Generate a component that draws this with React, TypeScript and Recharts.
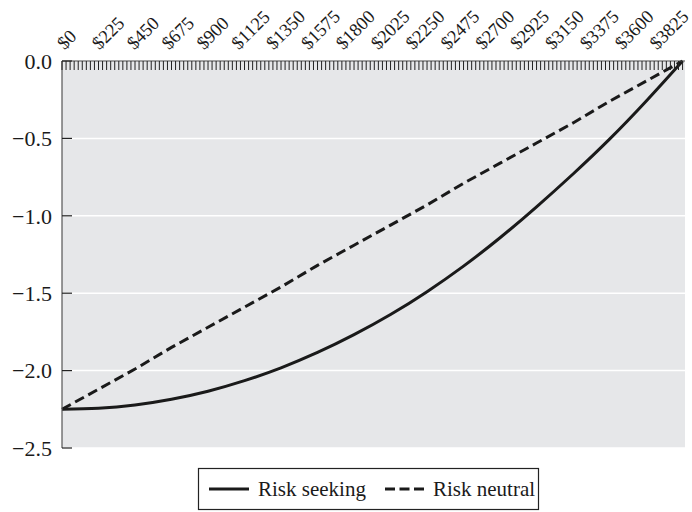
import React from "react";
import { LineChart, Line, XAxis, YAxis, CartesianGrid } from "recharts";

const amounts = [0, 225, 450, 675, 900, 1125, 1350, 1575, 1800, 2025, 2250, 2475, 2700, 2925, 3150, 3375, 3600, 3825];
const riskSeeking = [-2.25, -2.243, -2.222, -2.185, -2.133, -2.065, -1.982, -1.883, -1.768, -1.638, -1.49, -1.325, -1.142, -0.942, -0.73, -0.505, -0.26, 0];
const riskNeutral = [-2.25, -2.12, -1.99, -1.85, -1.72, -1.59, -1.46, -1.32, -1.19, -1.06, -0.93, -0.79, -0.66, -0.53, -0.4, -0.26, -0.13, 0];
const yTicks = [0, -0.5, -1, -1.5, -2, -2.5];
const labelTicks = amounts;
const minorStep = 25;

const minorTicks: number[] = [];
for (let v = 0; v <= 3825; v += minorStep) minorTicks.push(v);

const data = amounts.map((a, i) => ({ x: a, seeking: riskSeeking[i], neutral: riskNeutral[i] }));

const FONT = '"Liberation Serif", "Times New Roman", serif';

const XTick = (props: any) => {
  const { x, y, payload } = props;
  const v = payload.value as number;
  const labeled = labelTicks.includes(v);
  const k = v / 225;
  const sx = x + 2.5 - 1.65 * k;
  const sy = y - 10.5;
  return (
    <g>
      <line x1={x} y1={y} x2={x} y2={y + 9} stroke="#222" strokeWidth={1} />
      {labeled && (
        <text
          x={sx}
          y={sy}
          transform={`rotate(-45 ${sx} ${sy})`}
          textAnchor="start"
          fontFamily={FONT}
          fontSize={18.5}
          fill="#1a1a1a"
        >
          {"$" + v}
        </text>
      )}
    </g>
  );
};

const YTick = (props: any) => {
  const { x, y, payload } = props;
  const v = payload.value as number;
  const label = v === 0 ? "0.0" : "\u2212" + Math.abs(v).toFixed(1);
  return (
    <g>
      <line x1={x} y1={y} x2={x + 10} y2={y} stroke="#222" strokeWidth={1.2} />
      <text x={x - 10} y={y} dy="0.35em" textAnchor="end" fontFamily={FONT} fontSize={22} fill="#1a1a1a">
        {label}
      </text>
    </g>
  );
};

export default function App() {
  return (
    <div style={{ position: "absolute", left: 0, top: 0, width: 692, height: 512, background: "#fff" }}>
      <LineChart width={692} height={512} data={data} margin={{ top: 41, right: 7, bottom: 64, left: 2 }}>
        <CartesianGrid vertical={false} horizontal={true} fill="#e6e7e9" stroke="#ffffff" strokeWidth={1.5} />
        <XAxis
          dataKey="x"
          type="number"
          orientation="top"
          domain={[0, 3840]}
          ticks={minorTicks}
          interval={0}
          height={20}
          tickSize={0}
          tickMargin={0}
          tickLine={false}
          axisLine={{ stroke: "#444", strokeWidth: 1.2 }}
          tick={<XTick />}
        />
        <YAxis
          type="number"
          domain={[-2.5, 0]}
          ticks={yTicks}
          interval={0}
          width={60}
          tickSize={0}
          tickMargin={0}
          tickLine={false}
          axisLine={{ stroke: "#555", strokeWidth: 1.2 }}
          tick={<YTick />}
        />
        <Line
          type="linear"
          dataKey="neutral"
          stroke="#1a1a1a"
          strokeWidth={3}
          strokeDasharray="10 5"
          dot={false}
          isAnimationActive={false}
        />
        <Line type="natural" dataKey="seeking" stroke="#1a1a1a" strokeWidth={3} dot={false} isAnimationActive={false} />
      </LineChart>
      <svg
        width={692}
        height={512}
        style={{ position: "absolute", left: 0, top: 0, pointerEvents: "none" }}
      >
        <rect x={198.5} y={468.5} width={340} height={41} fill="#fff" stroke="#222" strokeWidth={1.2} />
        <line x1={209} y1={489} x2={249} y2={489} stroke="#1a1a1a" strokeWidth={3} />
        <text x={258} y={496} fontFamily={FONT} fontSize={21} fill="#1a1a1a">Risk seeking</text>
        <line x1={385} y1={489} x2={424} y2={489} stroke="#1a1a1a" strokeWidth={3} strokeDasharray="10 4.5" />
        <text x={433} y={496} fontFamily={FONT} fontSize={21} fill="#1a1a1a">Risk neutral</text>
      </svg>
    </div>
  );
}
